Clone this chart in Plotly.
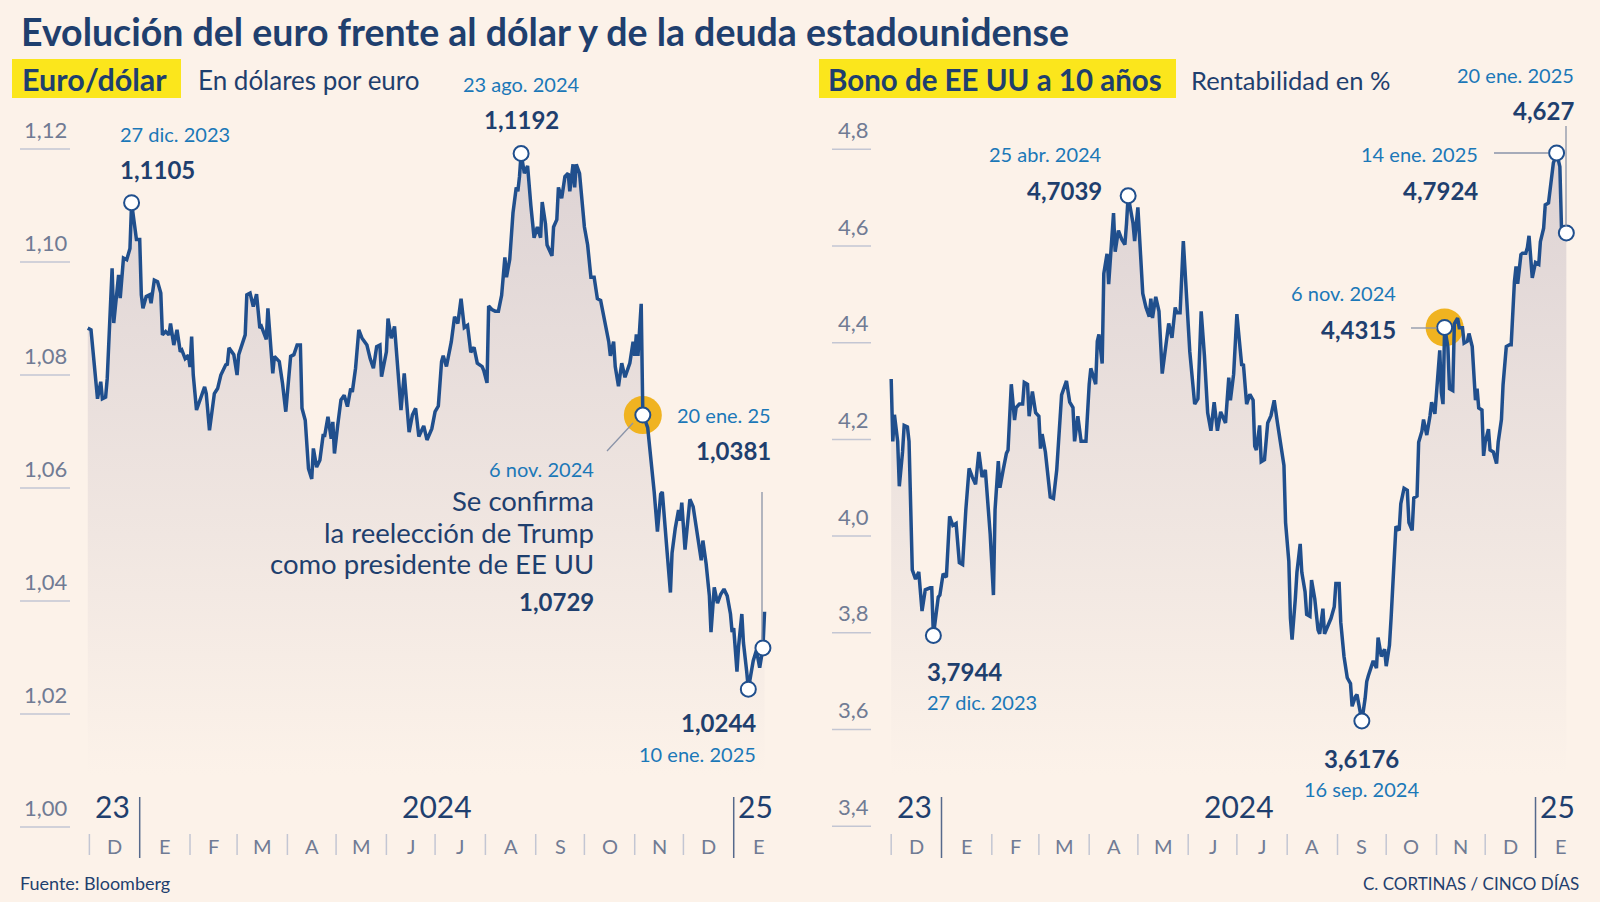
import pandas as pd
import plotly.graph_objects as go

W, H = 1600, 902
BG = '#fcf2e9'
FILLTOP = '#ddd3d4'
LINE = '#204f8d'
DARK = '#1f3f6e'
BLUE = '#1b78b8'
GRAY = '#707b94'
SEP = '#c3c6d3'
YEARSEP = '#56698c'
YEL = '#fbe61c'
ORANGE = '#f0b320'
LEAD = '#8a93a8'
FONT = 'Lato'

# ---------------- data ----------------
BASE_DATE = '2024-01-01'   # day offsets below are counted from this date

eur_day = [-32, -30, -26, -24, -23, -21, -20, -17, -16, -13, -12, -10, -8, -6, -5, -3, -2, 0, 1, 2, 4, 6, 7, 9,
           11, 13, 14, 16, 18, 19, 21, 23, 25, 26, 28, 30, 31, 32, 33, 35, 37, 40, 41, 43, 46, 48, 50, 53, 54, 55,
           58, 60, 61, 63, 65, 66, 68, 70, 72, 74, 75, 78, 79, 82, 83, 86, 88, 90, 93, 95, 97, 99, 100, 102, 104,
           106, 107, 109, 111, 113, 114, 116, 118, 119, 120, 122, 124, 126, 128, 130, 131, 133, 135, 137, 140, 142,
           144, 146, 148, 149, 151, 152, 153, 155, 157, 159, 161, 163, 165, 166, 168, 170, 172, 175, 177, 180, 182,
           184, 186, 187, 189, 192, 194, 196, 198, 200, 202, 204, 206, 208, 211, 212, 214, 215, 217, 219, 221, 223,
           225, 226, 228, 230, 232, 233, 234, 235, 237, 239, 241, 242, 243, 245, 247, 248, 250, 251, 254, 255, 257,
           258, 260, 262, 264, 265, 267, 268, 269, 271, 272, 274, 276, 278, 280, 282, 284, 287, 289, 290, 292, 293,
           295, 297, 299, 302, 304, 305, 306, 307, 309, 310, 311, 313, 315, 317, 319, 321, 322, 324, 325, 327, 328,
           330, 332, 333, 334, 336, 337, 339, 341, 342, 344, 346, 347, 349, 351, 352, 354, 356, 358, 360, 362, 364,
           365, 366, 368, 369, 371, 372, 374, 375, 378, 380, 382, 384, 385]
eur_val = [1.0883, 1.0880, 1.0758, 1.0788, 1.0758, 1.0761, 1.0794, 1.0989, 1.0892, 1.0977, 1.0936, 1.1007, 1.1004,
           1.1024, 1.1105, 1.1054, 1.1040, 1.1040, 1.0942, 1.0918, 1.0939, 1.0942, 1.0927, 1.0968, 1.0965, 1.0945,
           1.0871, 1.0877, 1.0871, 1.0891, 1.0853, 1.0880, 1.0841, 1.0844, 1.0829, 1.0835, 1.0814, 1.0868, 1.0800,
           1.0738, 1.0756, 1.0779, 1.0767, 1.0702, 1.0767, 1.0776, 1.0800, 1.0818, 1.0819, 1.0848, 1.0836, 1.0800,
           1.0836, 1.0853, 1.0871, 1.0942, 1.0945, 1.0921, 1.0943, 1.0883, 1.0886, 1.0863, 1.0918, 1.0803, 1.0833,
           1.0824, 1.0785, 1.0735, 1.0833, 1.0836, 1.0853, 1.0853, 1.0741, 1.0720, 1.0634, 1.0616, 1.0670, 1.0637,
           1.0649, 1.0693, 1.0693, 1.0726, 1.0687, 1.0717, 1.0661, 1.0711, 1.0756, 1.0764, 1.0744, 1.0776, 1.0770,
           1.0812, 1.0880, 1.0865, 1.0853, 1.0829, 1.0812, 1.0850, 1.0853, 1.0797, 1.0829, 1.0841, 1.0900, 1.0865,
           1.0886, 1.0812, 1.0738, 1.0803, 1.0735, 1.0699, 1.0729, 1.0741, 1.0691, 1.0710, 1.0685, 1.0705, 1.0735,
           1.0745, 1.0824, 1.0834, 1.0815, 1.0859, 1.0903, 1.0891, 1.0935, 1.0884, 1.0888, 1.0840, 1.0849, 1.0821,
           1.0815, 1.0808, 1.0786, 1.0922, 1.0916, 1.0913, 1.0913, 1.0941, 1.1008, 1.0973, 1.1005, 1.1087, 1.1132,
           1.1125, 1.1151, 1.1192, 1.1157, 1.1170, 1.1100, 1.1068, 1.1043, 1.1062, 1.1043, 1.1106, 1.1068, 1.1030,
           1.1011, 1.1062, 1.1075, 1.1132, 1.1113, 1.1151, 1.1157, 1.1125, 1.1173, 1.1132, 1.1173, 1.1157, 1.1119,
           1.1062, 1.1030, 1.0973, 1.0973, 1.0935, 1.0932, 1.0891, 1.0859, 1.0834, 1.0859, 1.0815, 1.0780, 1.0821,
           1.0796, 1.0821, 1.0859, 1.0834, 1.0872, 1.0834, 1.0926, 1.0729, 1.0723, 1.0707, 1.0656, 1.0593, 1.0523,
           1.0589, 1.0593, 1.0529, 1.0485, 1.0415, 1.0485, 1.0529, 1.0561, 1.0542, 1.0574, 1.0491, 1.0526, 1.0580,
           1.0567, 1.0548, 1.0516, 1.0472, 1.0507, 1.0466, 1.0409, 1.0345, 1.0424, 1.0396, 1.0412, 1.0421, 1.0409,
           1.0377, 1.0345, 1.0352, 1.0275, 1.0320, 1.0377, 1.0326, 1.0275, 1.0244, 1.0294, 1.0313, 1.0282, 1.0317,
           1.0381]

bond_day = [-31, -30, -29, -27, -26, -24, -23, -21, -20, -18, -16, -14, -12, -10, -7, -6, -5, -2, -1, 1, 3, 5, 7, 9,
            11, 13, 15, 17, 19, 21, 23, 25, 27, 28, 30, 32, 33, 35, 36, 38, 40, 41, 43, 45, 46, 48, 50, 51, 53, 54,
            56, 58, 60, 61, 62, 64, 66, 67, 69, 71, 74, 77, 79, 81, 82, 84, 86, 88, 89, 91, 92, 95, 96, 97, 99, 100,
            102, 103, 105, 106, 107, 109, 111, 113, 114, 115, 118, 119, 121, 122, 124, 126, 128, 129, 130, 132, 134,
            136, 138, 140, 142, 144, 145, 147, 149, 151, 153, 156, 158, 160, 162, 164, 166, 168, 170, 172, 175, 177,
            178, 180, 182, 183, 185, 186, 188, 190, 192, 193, 194, 196, 197, 199, 201, 203, 205, 207, 209, 211, 212,
            214, 215, 216, 218, 219, 221, 222, 224, 225, 227, 228, 230, 232, 233, 235, 236, 238, 240, 242, 243, 245,
            246, 248, 250, 252, 253, 255, 256, 258, 259, 261, 262, 263, 265, 266, 268, 269, 271, 273, 274, 276, 277,
            279, 280, 282, 283, 285, 287, 288, 290, 291, 293, 294, 296, 297, 299, 301, 302, 304, 305, 307, 308, 309,
            310, 312, 313, 315, 316, 318, 319, 321, 322, 324, 325, 327, 329, 330, 331, 333, 334, 335, 337, 338, 340,
            342, 343, 345, 346, 348, 350, 351, 353, 354, 355, 357, 358, 360, 361, 362, 364, 366, 368, 369, 371, 372,
            374, 376, 377, 378, 379, 381, 382, 383, 385]
bond_val = [4.325, 4.196, 4.251, 4.196, 4.103, 4.174, 4.229, 4.226, 4.196, 3.930, 3.911, 3.926, 3.845, 3.889, 3.893,
            3.893, 3.7944, 3.874, 3.878, 3.922, 3.915, 4.041, 4.022, 4.026, 3.945, 3.941, 4.055, 4.140, 4.122, 4.107,
            4.174, 4.122, 4.137, 4.092, 4.004, 3.878, 4.055, 4.155, 4.100, 4.137, 4.171, 4.178, 4.314, 4.240, 4.266,
            4.273, 4.273, 4.318, 4.314, 4.248, 4.299, 4.255, 4.248, 4.181, 4.211, 4.174, 4.107, 4.081, 4.078, 4.137,
            4.292, 4.321, 4.277, 4.266, 4.196, 4.248, 4.196, 4.196, 4.196, 4.314, 4.347, 4.314, 4.403, 4.417, 4.357,
            4.543, 4.584, 4.521, 4.617, 4.668, 4.588, 4.632, 4.614, 4.603, 4.647, 4.7039, 4.647, 4.610, 4.680, 4.617,
            4.502, 4.473, 4.454, 4.491, 4.451, 4.495, 4.465, 4.336, 4.395, 4.440, 4.410, 4.473, 4.462, 4.462, 4.610,
            4.506, 4.381, 4.273, 4.284, 4.465, 4.373, 4.255, 4.218, 4.277, 4.218, 4.257, 4.234, 4.328, 4.281, 4.335,
            4.459, 4.423, 4.352, 4.356, 4.273, 4.293, 4.281, 4.186, 4.178, 4.229, 4.154, 4.158, 4.234, 4.249, 4.281,
            4.234, 4.186, 4.146, 4.028, 3.948, 3.830, 3.786, 3.870, 3.925, 3.984, 3.925, 3.885, 3.838, 3.834, 3.909,
            3.870, 3.806, 3.798, 3.850, 3.798, 3.814, 3.830, 3.854, 3.902, 3.902, 3.822, 3.751, 3.707, 3.695, 3.648,
            3.668, 3.672, 3.636, 3.6176, 3.664, 3.699, 3.711, 3.735, 3.742, 3.727, 3.790, 3.751, 3.766, 3.731, 3.774,
            3.830, 3.948, 4.020, 4.012, 4.067, 4.099, 4.095, 4.028, 4.012, 4.079, 4.083, 4.194, 4.217, 4.241, 4.209,
            4.249, 4.277, 4.253, 4.297, 4.384, 4.297, 4.273, 4.4315, 4.392, 4.305, 4.301, 4.439, 4.451, 4.431, 4.431,
            4.399, 4.403, 4.419, 4.392, 4.281, 4.305, 4.265, 4.261, 4.166, 4.194, 4.221, 4.178, 4.174, 4.150, 4.194,
            4.241, 4.313, 4.392, 4.396, 4.396, 4.526, 4.558, 4.522, 4.582, 4.585, 4.585, 4.597, 4.621, 4.534, 4.566,
            4.562, 4.609, 4.637, 4.685, 4.689, 4.748, 4.772, 4.781, 4.7924, 4.764, 4.637, 4.637, 4.627]

# highlighted points (day offsets into the series)
eur_mark_day = [-5, 235, 310, 375, 384]
bond_mark_day = [-5, 115, 259, 310, 379, 385]

eur_ticks = [1.00, 1.02, 1.04, 1.06, 1.08, 1.10, 1.12]
eur_tick_text = ['1,00', '1,02', '1,04', '1,06', '1,08', '1,10', '1,12']
bond_ticks = [3.4, 3.6, 3.8, 4.0, 4.2, 4.4, 4.6, 4.8]
bond_tick_text = ['3,4', '3,6', '3,8', '4,0', '4,2', '4,4', '4,6', '4,8']

month_starts = ['2023-12-01', '2024-01-01', '2024-02-01', '2024-03-01', '2024-04-01', '2024-05-01', '2024-06-01',
                '2024-07-01', '2024-08-01', '2024-09-01', '2024-10-01', '2024-11-01', '2024-12-01', '2025-01-01',
                '2025-02-01']
month_letters = ['D', 'E', 'F', 'M', 'A', 'M', 'J', 'J', 'A', 'S', 'O', 'N', 'D', 'E']
year_starts = ['2024-01-01', '2025-01-01']

# ---------------- geometry (pixels) ----------------
base = pd.Timestamp(BASE_DATE)
eur_x = [base + pd.Timedelta(days=d) for d in eur_day]
bond_x = [base + pd.Timedelta(days=d) for d in bond_day]

PX_DAY = 1.623
X_ORIGIN = {'L': 139.7, 'R': 941.5}
Y_GEOM = {'L': (1.12, 149.0, 5650.0), 'R': (4.8, 149.3, 483.5)}
X_RANGE = ['2023-11-27', '2025-01-29']
Y_RANGE = {'L': (0.99, 1.13), 'R': (3.3, 4.9)}


def xpx(panel, date):
    return X_ORIGIN[panel] + PX_DAY * (pd.Timestamp(date) - base).days


def ypx(panel, v):
    ref, refpx, k = Y_GEOM[panel]
    return refpx + (ref - v) * k


def xp(px):
    return px / W


def yp(py):
    return 1 - py / H


fig = go.Figure()

panels = [
    ('L', 'x', 'y', eur_x, eur_val, eur_day, eur_mark_day, 1.12),
    ('R', 'x2', 'y2', bond_x, bond_val, bond_day, bond_mark_day, 4.8),
]
FILL_BOTTOM_PX = 775

for panel, xa, ya, xs, vs, days, mdays, top in panels:
    ref, refpx, k = Y_GEOM[panel]
    base_v = ref - (FILL_BOTTOM_PX - refpx) / k
    fig.add_trace(go.Scatter(x=[xs[0], xs[-1]], y=[base_v, base_v], xaxis=xa, yaxis=ya, mode='lines',
                             line=dict(width=0, color=BG), hoverinfo='skip', showlegend=False))
    fig.add_trace(go.Scatter(x=xs, y=vs, xaxis=xa, yaxis=ya, mode='lines', line=dict(width=0, color=LINE),
                             fill='tonexty',
                             fillgradient=dict(type='vertical', colorscale=[[0, BG], [1, FILLTOP]],
                                               start=base_v, stop=top),
                             hoverinfo='skip', showlegend=False))
    i6 = days.index(310)
    fig.add_trace(go.Scatter(x=[xs[i6]], y=[vs[i6]], xaxis=xa, yaxis=ya, mode='markers',
                             marker=dict(size=38, color=ORANGE, line=dict(width=0)),
                             hoverinfo='skip', showlegend=False))
    fig.add_trace(go.Scatter(x=xs, y=vs, xaxis=xa, yaxis=ya, mode='lines',
                             line=dict(width=3.5, color=LINE, shape='linear'),
                             hoverinfo='skip', showlegend=False))
    idx = [days.index(d) for d in mdays]
    fig.add_trace(go.Scatter(x=[xs[i] for i in idx], y=[vs[i] for i in idx], xaxis=xa, yaxis=ya, mode='markers',
                             marker=dict(size=15, color='white', line=dict(width=2, color=LINE)),
                             hoverinfo='skip', showlegend=False))

layout_axes = {}
for panel, xa, ya in [('L', 'xaxis', 'yaxis'), ('R', 'xaxis2', 'yaxis2')]:
    d0 = xp(xpx(panel, X_RANGE[0]))
    d1 = xp(xpx(panel, X_RANGE[1]))
    lo, hi = Y_RANGE[panel]
    layout_axes[xa] = dict(range=X_RANGE, domain=[d0, d1], visible=False, fixedrange=True,
                           anchor='y' if panel == 'L' else 'y2')
    layout_axes[ya] = dict(range=[lo, hi], domain=[yp(ypx(panel, lo)), yp(ypx(panel, hi))], visible=False,
                           fixedrange=True, anchor='x' if panel == 'L' else 'x2')

fig.update_layout(width=W, height=H, margin=dict(l=0, r=0, t=0, b=0), paper_bgcolor=BG, plot_bgcolor='rgba(0,0,0,0)',
                  showlegend=False, **layout_axes)


def txt(s, x, y, size, color, bold=False, anchor='left'):
    fig.add_annotation(text=f'<b>{s}</b>' if bold else s, x=xp(x), y=yp(y), xref='paper', yref='paper',
                       xanchor=anchor, yanchor='middle', showarrow=False,
                       font=dict(size=size, color=color, family=FONT))


def seg(x0, y0, x1, y1, color, width):
    fig.add_shape(type='line', x0=xp(x0), y0=yp(y0), x1=xp(x1), y1=yp(y1), xref='paper', yref='paper',
                  line=dict(color=color, width=width))


# title and panel headers
txt('Evolución del euro frente al dólar y de la deuda estadounidense', 19, 31, 37.5, DARK, bold=True)
fig.add_shape(type='rect', x0=xp(12), x1=xp(181), y0=yp(59), y1=yp(98), xref='paper', yref='paper',
              fillcolor=YEL, line=dict(width=0), layer='below')
fig.add_shape(type='rect', x0=xp(819), x1=xp(1176), y0=yp(59), y1=yp(98), xref='paper', yref='paper',
              fillcolor=YEL, line=dict(width=0), layer='below')
txt('Euro/dólar', 20, 79, 30.5, DARK, bold=True)
txt('En dólares por euro', 196, 80, 26, DARK)
txt('Bono de EE UU a 10 años', 826, 79, 29.5, DARK, bold=True)
txt('Rentabilidad en %', 1189, 80, 25.5, DARK)

# y ticks
for panel, ticks, labels, lx0, lx1, tx in [('L', eur_ticks, eur_tick_text, 20, 70, 22),
                                           ('R', bond_ticks, bond_tick_text, 832, 871, 836)]:
    for v, lab in zip(ticks, labels):
        y = ypx(panel, v)
        seg(lx0, y, lx1, y, SEP, 1.5)
        txt(lab, tx, y - 20, 22, GRAY)

# x axis: months, years
for panel in ['L', 'R']:
    for i, m in enumerate(month_letters):
        a = xpx(panel, month_starts[i])
        b = xpx(panel, month_starts[i + 1])
        if month_starts[i] not in year_starts:
            seg(a, 834, a, 855, SEP, 1.5)
        txt(m, (a + b) / 2, 846, 20, GRAY, anchor='center')
    for ys in year_starts:
        xx = xpx(panel, ys)
        seg(xx, 797, xx, 858, YEARSEP, 1.5)
    j24 = xpx(panel, '2024-01-01')
    j25 = xpx(panel, '2025-01-01')
    txt('23', j24 - 8, 806, 30, DARK, anchor='right')
    txt('2024', (j24 + j25) / 2, 806, 30, DARK, anchor='center')
    txt('25', j25 + 2, 806, 30, DARK, anchor='left')

# callouts: euro/dólar
txt('27 dic. 2023', 118, 134, 20, BLUE)
txt('1,1105', 118, 169, 24, DARK, bold=True)
txt('23 ago. 2024', 521, 84, 20, BLUE, anchor='center')
txt('1,1192', 521, 119, 24, DARK, bold=True, anchor='center')
txt('20 ene. 25', 773, 415, 20, BLUE, anchor='right')
txt('1,0381', 773, 450, 24, DARK, bold=True, anchor='right')
seg(762, 492, 762, 640, LEAD, 1.3)
txt('6 nov. 2024', 596, 469, 20, BLUE, anchor='right')
txt('Se confirma', 596, 500, 27.5, DARK, anchor='right')
txt('la reelección de Trump', 596, 532, 27.5, DARK, anchor='right')
txt('como presidente de EE UU', 596, 563, 27.5, DARK, anchor='right')
txt('1,0729', 596, 601, 24, DARK, bold=True, anchor='right')
seg(607, 451, 633, 423, LEAD, 1.3)
txt('1,0244', 758, 722, 24, DARK, bold=True, anchor='right')
txt('10 ene. 2025', 758, 754, 20, BLUE, anchor='right')

# callouts: bono
txt('25 abr. 2024', 1104, 154, 20, BLUE, anchor='right')
txt('4,7039', 1104, 190, 24, DARK, bold=True, anchor='right')
txt('3,7944', 925, 671, 24, DARK, bold=True)
txt('27 dic. 2023', 925, 702, 20, BLUE)
txt('3,6176', 1361, 758, 24, DARK, bold=True, anchor='center')
txt('16 sep. 2024', 1361, 789, 20, BLUE, anchor='center')
txt('6 nov. 2024', 1398, 293, 20, BLUE, anchor='right')
txt('4,4315', 1398, 329, 24, DARK, bold=True, anchor='right')
seg(1411, 328, 1437, 328, LEAD, 1.3)
txt('14 ene. 2025', 1480, 154, 20, BLUE, anchor='right')
txt('4,7924', 1480, 190, 24, DARK, bold=True, anchor='right')
seg(1494, 153, 1548, 153, LEAD, 1.3)
txt('20 ene. 2025', 1576, 75, 20, BLUE, anchor='right')
txt('4,627', 1576, 111, 24, DARK, bold=True, anchor='right')
seg(1566, 126, 1566, 226, LEAD, 1.3)

# footer
txt('Fuente: Bloomberg', 18, 883, 18, DARK)
txt('C. CORTINAS / CINCO DÍAS', 1581, 883, 17, DARK, anchor='right')

fig.write_html('out.html', config={'displayModeBar': False})
